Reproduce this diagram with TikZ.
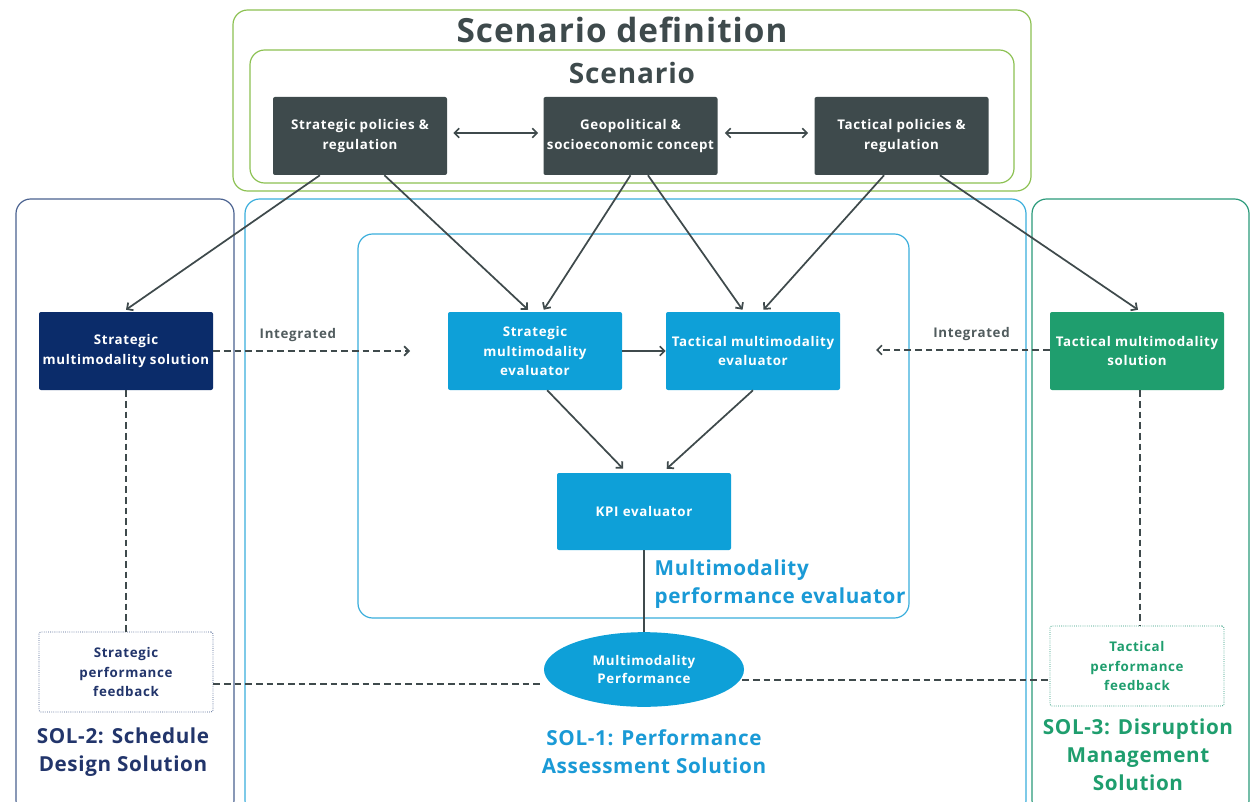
\documentclass[tikz,border=0pt]{standalone}
\usepackage{fontspec}
\setmainfont{Open Sans}
\newfontfamily\spfont{Open Sans}[LetterSpace=5]
\newfontfamily\tifont{Open Sans}[LetterSpace=3]
\usetikzlibrary{arrows.meta,shapes.geometric,calc}
\definecolor{dkgrey}{HTML}{3E4A4C}
\definecolor{scgreen}{HTML}{8CC152}
\definecolor{navyline}{HTML}{4A6290}
\definecolor{navy}{HTML}{0B2C6A}
\definecolor{navytext}{HTML}{22356B}
\definecolor{bluline}{HTML}{3AAEDC}
\definecolor{blufill}{HTML}{0EA0D8}
\definecolor{blutext}{HTML}{1A9AD6}
\definecolor{grnline}{HTML}{2A9A7A}
\definecolor{grnfill}{HTML}{1F9E6E}
\definecolor{arrowc}{HTML}{3F4A4C}
\begin{document}
\begin{tikzpicture}[x=0.75pt,y=-0.75pt,
  box/.style={rectangle,rounded corners=1.5pt,minimum width=130.5pt,minimum height=58.5pt,inner sep=1pt,align=center,text=white,font=\spfont\bfseries\fontsize{10}{14.5}\selectfont},
  darkbox/.style={box,fill=dkgrey},
  navybox/.style={box,fill=navy},
  bluebox/.style={box,fill=blufill},
  greenbox/.style={box,fill=grnfill},
  fbbox/.style={rectangle,rounded corners=1.5pt,minimum width=130.5pt,minimum height=60pt,inner sep=1pt,align=center,densely dotted,line width=0.6pt,font=\spfont\bfseries\fontsize{10}{14.8}\selectfont},
  frame/.style={rounded corners=11pt,line width=0.9pt},
  arr/.style={draw=arrowc,line width=1.3pt,-{Straight Barb[length=3.5pt,width=7pt]}},
  darr/.style={draw=arrowc,line width=1.3pt,{Straight Barb[length=3.5pt,width=7pt]}-{Straight Barb[length=3.5pt,width=7pt]}},
  dsh/.style={draw=arrowc,line width=1.3pt,dash pattern=on 5pt off 3pt},
  dsharr/.style={dsh,-{Straight Barb[length=3.5pt,width=7pt]}},
  title/.style={align=center,font=\tifont\bfseries\fontsize{15.5}{21}\selectfont}
]
\useasboundingbox (0,0) rectangle (1252,802);
\fill[white] (0,0) rectangle (1252,802);

% frames
\draw[frame,scgreen] (233,10) rectangle (1031,191);
\draw[frame,scgreen] (250,50) rectangle (1014,183);
\draw[frame,navyline] (16,199) rectangle (234,815);
\draw[frame,bluline] (245,199) rectangle (1026,815);
\draw[frame,grnline] (1032,199) rectangle (1249,815);
\draw[frame,bluline] (358,234) rectangle (909,618);

% titles
\node[text=dkgrey,font=\tifont\bfseries\fontsize{25}{28}\selectfont] (t1) at (622,30) {Scenario definition};
\node[text=dkgrey,font=\tifont\bfseries\fontsize{21}{24}\selectfont] (t2) at (632,73) {Scenario};

% scenario nodes
\node[darkbox] (sp) at (360,136) {Strategic policies \&\\regulation};
\node[darkbox] (geo) at (630.5,136) {Geopolitical \&\\socioeconomic concept};
\node[darkbox] (tp) at (901.5,136) {Tactical policies \&\\regulation};

% main nodes
\node[navybox] (sms) at (126,351) {Strategic\\multimodality solution};
\node[bluebox] (sme) at (535,351) {Strategic\\multimodality\\evaluator};
\node[bluebox] (tme) at (753,351) {Tactical multimodality\\evaluator};
\node[greenbox] (tms) at (1137,351) {Tactical multimodality\\solution};
\node[bluebox,minimum height=57.75pt] (kpi) at (644,511.5) {KPI evaluator};
\node[ellipse,fill=blufill,text=white,minimum width=150pt,minimum height=56pt,inner sep=0pt,align=center,font=\spfont\bfseries\fontsize{10}{14}\selectfont] (mp) at (644,669.5) {Multimodality\\Performance};
\node[fbbox,draw=navyline,text=navytext] (spf) at (126,672) {Strategic\\performance\\feedback};
\node[fbbox,draw=grnline,text=grnfill] (tpf) at (1137,666) {Tactical\\performance\\feedback};

% section labels
\node[title,text=navytext] (l2) at (123,752) {SOL-2: Schedule\\Design Solution};
\node[title,text=blutext] (l1) at (654,752) {SOL-1: Performance\\Assessment Solution};
\node[title,text=grnfill] (l3) at (1138,755) {SOL-3: Disruption\\Management\\Solution};
\node[title,text=blutext,align=left,anchor=west] (l4) at (650,584) {Multimodality\\performance evaluator};

% double arrows
\draw[darr] ($(sp.east)+(6,-3)$) -- ($(geo.west)+(-5,-3)$);
\draw[darr] ($(geo.east)+(7,-3)$) -- ($(tp.west)+(-6,-3)$);

% arrows from scenario
\draw[arr] ($(sp.south west)!0.27!(sp.south east)$) -- ($(sms.north)+(0,-2)$);
\draw[arr] ($(sp.south west)!0.64!(sp.south east)$) -- ($(sme.north west)!0.46!(sme.north east)+(0,-2)$);
\draw[arr] ($(geo.south west)!0.5!(geo.south east)$) -- ($(sme.north west)!0.55!(sme.north east)+(0,-2)$);
\draw[arr] ($(geo.south west)!0.6!(geo.south east)$) -- ($(tme.north west)!0.44!(tme.north east)+(0,-2)$);
\draw[arr] ($(tp.south west)!0.4!(tp.south east)$) -- ($(tme.north west)!0.56!(tme.north east)+(0,-2)$);
\draw[arr] ($(tp.south west)!0.72!(tp.south east)$) -- ($(tms.north)+(1,-2)$);

% evaluator arrows
\draw[arr] (sme.east) -- (tme.west);
\draw[arr] ($(sme.south west)!0.57!(sme.south east)$) -- ($(kpi.north west)!0.38!(kpi.north east)+(0,-4)$);
\draw[arr] (tme.south) -- ($(kpi.north west)!0.63!(kpi.north east)+(0,-4)$);
\draw[draw=arrowc,line width=1.3pt] (kpi.south) -- (mp.north);

% integrated
\coordinate (ia) at (410,351);
\coordinate (ib) at (876,350);
\draw[dsharr] (sms.east) -- node[above=3pt,pos=0.43,text=dkgrey!90,font=\spfont\bfseries\fontsize{10}{11}\selectfont] {Integrated} (ia);
\draw[dsharr] (tms.west |- ib) -- node[above=3pt,pos=0.45,text=dkgrey!90,font=\spfont\bfseries\fontsize{10}{11}\selectfont] {Integrated} (ib);

% dashed vertical
\draw[dsh] (sms.south) -- (spf.north);
\draw[dsh] ($(tms.south)+(3,0)$) -- ($(tpf.north)+(3,0)$);
% dashed horizontal
\draw[dsh] (spf.east |- 0,684) -- (mp.west |- 0,684);
\coordinate (mr) at ($(mp.east)+(0,10.5)$);
\draw[dsh] ($(mp.east)+(-2,10.5)$) -- (tpf.west |- mr);
\end{tikzpicture}
\end{document}
